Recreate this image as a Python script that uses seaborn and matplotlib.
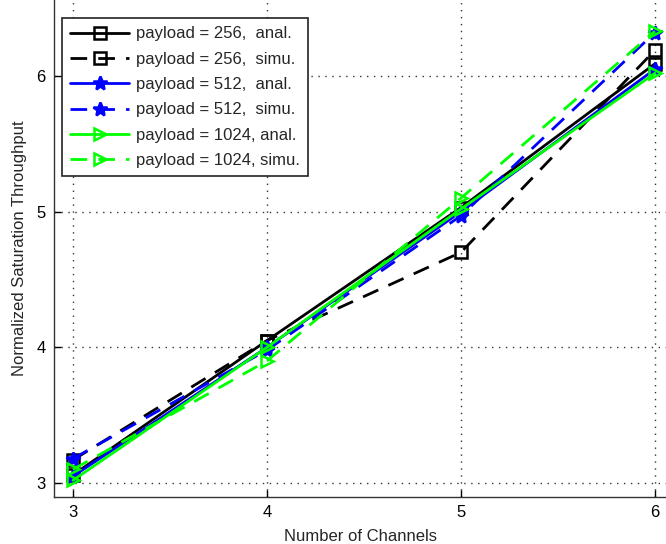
import matplotlib
matplotlib.use("Agg")
import matplotlib.pyplot as plt
import seaborn as sns
import pandas as pd

channels = [3, 4, 5, 6]
anal_256 = [3.06, 4.05, 5.03, 6.09]
simu_256 = [3.17, 4.05, 4.70, 6.19]
anal_512 = [3.05, 4.00, 5.00, 6.05]
simu_512 = [3.18, 3.98, 4.97, 6.32]
anal_1024 = [3.02, 4.00, 5.02, 6.02]
simu_1024 = [3.10, 3.90, 5.10, 6.33]

labels = ["payload = 256,  anal.", "payload = 256,  simu.",
          "payload = 512,  anal.", "payload = 512,  simu.",
          "payload = 1024, anal.", "payload = 1024, simu."]
series = [anal_256, simu_256, anal_512, simu_512, anal_1024, simu_1024]
colors = ["black", "black", "#0000ff", "#0000ff", "#00ff00", "#00ff00"]
markers = ["s", "s", "*", "*", ">", ">"]
dashed = [False, True, False, True, False, True]

sns.set_style("ticks")
plt.rcParams["font.family"] = ["Liberation Sans", "DejaVu Sans"]

fig = plt.figure(figsize=(6.66, 5.44), dpi=100)
ax = fig.add_axes([54 / 666, 47 / 544, 612 / 666, 497 / 544])

for lab, vals, c, m, d in zip(labels, series, colors, markers, dashed):
    df = pd.DataFrame({"ch": channels, "thr": vals})
    filled = m == "*"
    sns.lineplot(data=df, x="ch", y="thr", ax=ax, color=c, label=lab,
                 linewidth=2.0, marker=m,
                 markersize=10 if m == "*" else 8,
                 markerfacecolor=c if filled else "none",
                 markeredgecolor=c, markeredgewidth=1.8,
                 linestyle=(0, (6, 4)) if d else "-")

ax.set_xlim(2.902, 6.057)
ax.set_ylim(2.897, 6.56)
ax.set_xticks([3, 4, 5, 6])
ax.set_yticks([3, 4, 5, 6])
ax.grid(True, linestyle=(0, (1, 4)), color="#333333", linewidth=1.0)
ax.tick_params(direction="in", length=5, labelsize=12, colors="black",
               width=1, pad=6)
for s in ["top", "right"]:
    ax.spines[s].set_visible(False)
for s in ["left", "bottom"]:
    ax.spines[s].set_color("#333333")
    ax.spines[s].set_linewidth(1.0)

ax.set_xlabel("Number of Channels", fontsize=12, labelpad=6)
ax.set_ylabel("Normalized Saturation Throughput", fontsize=12, labelpad=7)

leg = ax.legend(loc="upper left", bbox_to_anchor=(8 / 612, 479 / 497),
                fontsize=12, frameon=True, fancybox=False, framealpha=1,
                handlelength=3.5, borderpad=0.5, labelspacing=0.62,
                handletextpad=0.45, borderaxespad=0)
leg.get_frame().set_edgecolor("#222222")
leg.get_frame().set_linewidth(1.2)

fig.savefig("out.png", dpi=100)
